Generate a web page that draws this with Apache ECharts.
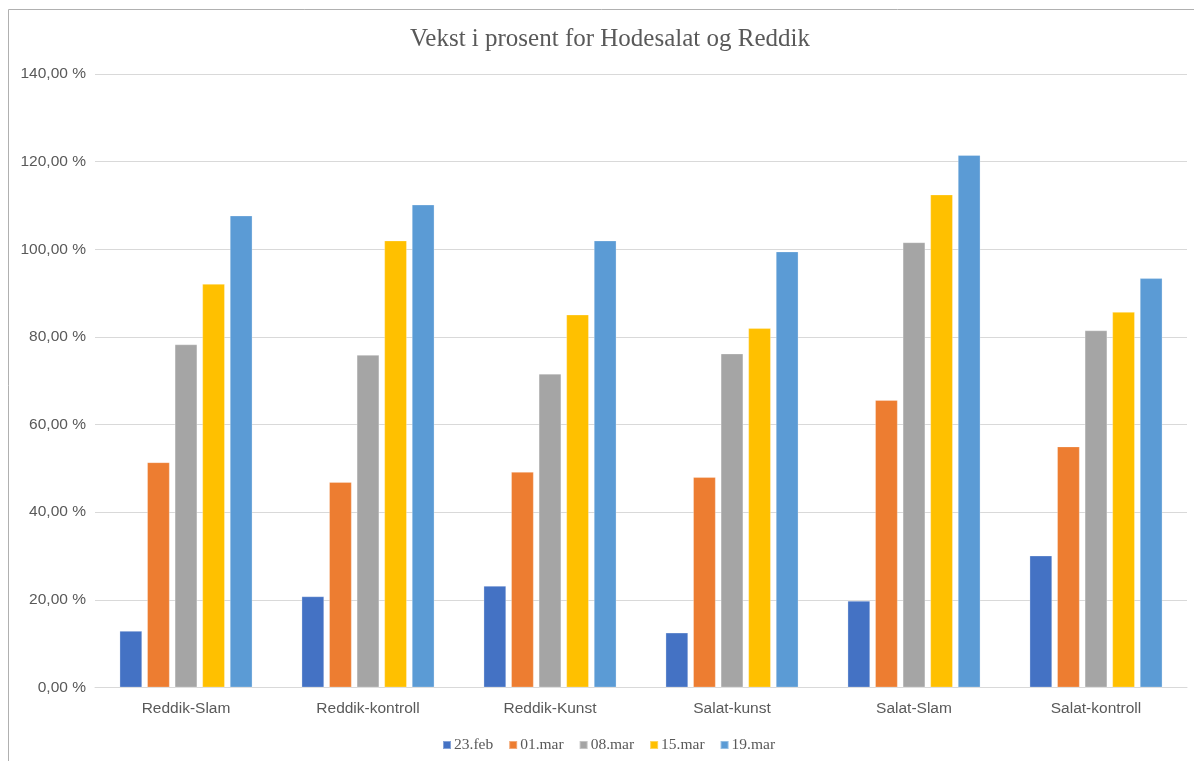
<!DOCTYPE html>
<html>
<head>
<meta charset="utf-8">
<title>Vekst i prosent for Hodesalat og Reddik</title>
<script src="https://cdn.jsdelivr.net/npm/echarts@6/dist/echarts.min.js"></script>
<style>
  html, body { margin: 0; padding: 0; background: #fff; }
  #chart { width: 1194px; height: 761px; }
</style>
</head>
<body>
<div id="chart"></div>
<script>
// Groups along the x axis
const categories = ['Reddik-Slam', 'Reddik-kontroll', 'Reddik-Kunst', 'Salat-kunst', 'Salat-Slam', 'Salat-kontroll'];

// Growth in percent per measuring date
const feb23 = [12.9, 20.8, 23.2, 12.5, 19.8, 30.1];
const mar01 = [51.4, 46.9, 49.2, 48.0, 65.6, 55.0];
const mar08 = [78.3, 75.9, 71.6, 76.2, 101.6, 81.5];
const mar15 = [92.1, 102.0, 85.1, 82.0, 112.5, 85.7];
const mar19 = [107.7, 110.2, 102.0, 99.5, 121.5, 93.4];

const seriesNames = ['23.feb', '01.mar', '08.mar', '15.mar', '19.mar'];
const seriesValues = [feb23, mar01, mar08, mar15, mar19];
const colors = ['#4472C4', '#ED7D31', '#A5A5A5', '#FFC000', '#5B9BD5'];

const yMin = 0, yMax = 140, yStep = 20;

const textColor = '#595959';
const sans = '"Liberation Sans", Arial, Helvetica, sans-serif';
const serif = '"Liberation Serif", "Times New Roman", serif';

const chart = echarts.init(document.getElementById('chart'));

chart.setOption({
  animation: false,
  color: colors,
  title: {
    text: 'Vekst i prosent for Hodesalat og Reddik',
    left: 605,
    textAlign: 'center',
    top: 22,
    textStyle: { fontFamily: serif, fontSize: 25, fontWeight: 'normal', color: textColor }
  },
  legend: {
    top: 732,
    left: 437,
    itemWidth: 8,
    itemHeight: 8,
    itemGap: 15,
    icon: 'rect',
    textStyle: { fontFamily: serif, fontSize: 15.5, color: textColor, padding: [0, 0, 0, -2] },
    data: seriesNames
  },
  grid: { left: 95, right: 7, top: 74, bottom: 73.5, containLabel: false },
  xAxis: {
    type: 'category',
    data: categories,
    axisLine: { lineStyle: { color: '#d9d9d9', width: 1 } },
    axisTick: { show: false },
    axisLabel: { fontFamily: sans, fontSize: 15.5, color: textColor, margin: 13 }
  },
  yAxis: {
    type: 'value',
    min: yMin,
    max: yMax,
    interval: yStep,
    axisLine: { show: false },
    axisTick: { show: false },
    splitLine: { lineStyle: { color: '#d9d9d9', width: 1 } },
    axisLabel: {
      fontFamily: sans, fontSize: 15.5, color: textColor, margin: 9,
      formatter: v => v.toFixed(2).replace('.', ',') + ' %'
    }
  },
  series: seriesNames.map((name, i) => ({
    name: name,
    type: 'bar',
    data: seriesValues[i],
    barWidth: 22.6,
    barGap: '22%',
    itemStyle: { color: colors[i], borderColor: 'rgba(255,255,255,0.35)', borderWidth: 0.8 }
  })),
  graphic: [
    { type: 'line', shape: { x1: 8.5, y1: 9.5, x2: 1194, y2: 9.5 }, style: { stroke: '#b0b0b0', lineWidth: 1 } },
    { type: 'line', shape: { x1: 8.5, y1: 9.5, x2: 8.5, y2: 761 }, style: { stroke: '#b0b0b0', lineWidth: 1 } }
  ]
});
</script>
</body>
</html>
